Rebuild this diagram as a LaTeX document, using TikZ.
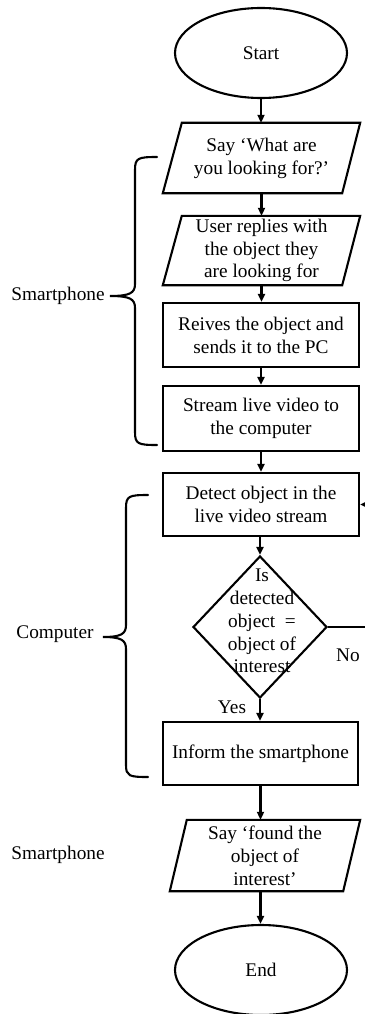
\documentclass[tikz,border=0pt]{standalone}
\usepackage{fontspec}
\setmainfont{Liberation Serif}
\usetikzlibrary{shapes.geometric,arrows.meta,calc}
\tikzset{
  txt/.style={font=\fontsize{19.3}{22.8}\selectfont, align=center, inner sep=0pt},
  shp/.style={draw, line width=2.1pt},
  boxnode/.style={shp, txt, minimum width=196pt},
  paranode/.style={txt, minimum width=197pt},
  oval/.style={shp, ellipse, txt, minimum width=172pt, minimum height=90pt},
  arr/.style={line width=2.1pt, -{Triangle[length=8pt,width=7pt]}},
  brace/.style={line width=2.1pt, line cap=round}
}
\begin{document}
\begin{tikzpicture}[x=1pt,y=-1pt]
\useasboundingbox (0,0) rectangle (364,1014);
% nodes
\node[oval] (start) at (261,53) {Start};
\node[paranode, minimum height=70pt] (p1) at (261.5,158) {Say ‘What are\\you looking for?’};
\draw[shp] ([xshift=19pt]p1.north west) -- (p1.north east) -- ([xshift=-18pt]p1.south east) -- (p1.south west) -- cycle;
\node[paranode, minimum height=69pt] (p2) at (261.5,250.5) {User replies with\\the object they\\are looking for};
\draw[shp] ([xshift=19pt]p2.north west) -- (p2.north east) -- ([xshift=-18pt]p2.south east) -- (p2.south west) -- cycle;
\node[boxnode, minimum height=64pt] (b3) at (261,335) {Reives the object and\\sends it to the PC};
\node[boxnode, minimum height=65pt] (b4) at (261,418.5) {Stream live video to\\the computer};
\node[boxnode, minimum height=63pt] (b5) at (261,504.5) {Detect object in the\\live video stream};
\node[shp, diamond, inner sep=0pt, minimum width=134pt, minimum height=142pt] (d) at (260,627) {};
\node[txt] (dt) at (262,621) {Is\\detected\\object\enspace=\\object of\\interest};
\node[boxnode, minimum width=195pt, minimum height=63pt] (b6) at (260.5,753.5) {Inform the smartphone};
\node[txt, minimum width=190pt, minimum height=71pt] (p3) at (265,855.5) {Say ‘found the\\object of\\interest’};
\draw[shp] ([xshift=17pt]p3.north west) -- (p3.north east) -- ([xshift=-17pt]p3.south east) -- (p3.south west) -- cycle;
\node[oval] (end) at (261,970) {End};
% labels
\node[txt] (yes) at (232,707) {Yes};
\node[txt] (no) at (348,655) {No};
\node[txt] (sp1) at (58,296) {Smartphone};
\node[txt] (comp) at (55,634) {Computer};
\node[txt] (sp2) at (58,855) {Smartphone};
% connectors
\draw[arr] (start.south) -- (start.south |- p1.north);
\draw[arr] (p1.south) -- (p2.north);
\draw[arr] (p2.south) -- (p2.south |- b3.north);
\draw[arr] (b3.south) -- (b4.north);
\draw[arr] (b4.south) -- (b5.north);
\draw[arr] (b5.south) -- (b5.south -| d.north) -- (d.north);
\draw[arr] (d.south) -- (d.south |- b6.north);
\draw[arr] (b6.south) -- (b6.south |- p3.north);
\draw[arr] (b6.south |- p3.south) -- (b6.south |- end.north);
\coordinate (loop) at (385,504.5);
\draw[arr] (d.east) -- (d.east -| loop) -- (loop) -- (b5.east);
% braces
\draw[brace] (157,157) .. controls (138,157) and (135,158) .. (135,170) -- (135,284)
  .. controls (135,293) and (130,296) .. (110,296)
  .. controls (130,296) and (135,299) .. (135,308) -- (135,432)
  .. controls (135,444) and (138,445) .. (157,445);
\draw[brace] (148,495) .. controls (129,495) and (126,496) .. (126,508) -- (126,625)
  .. controls (126,634) and (121,637) .. (103,637)
  .. controls (121,637) and (126,640) .. (126,649) -- (126,765)
  .. controls (126,776) and (129,777) .. (148,777);
\end{tikzpicture}
\end{document}
